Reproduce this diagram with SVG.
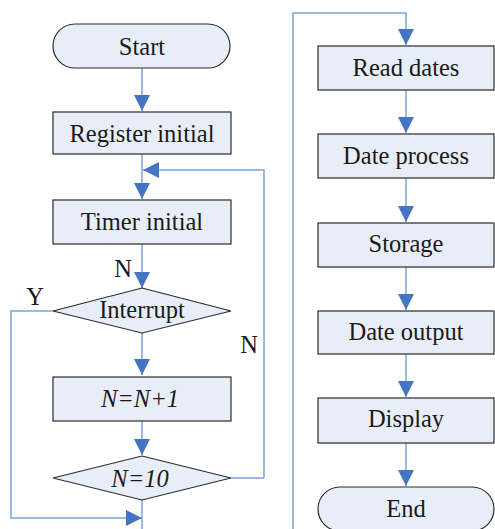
<svg xmlns="http://www.w3.org/2000/svg" width="495" height="529" viewBox="0 0 495 529">
<style>
.n{fill:#e8eef8;stroke:#2b2b2b;stroke-width:1.2}
.t{font-size:24.5px;fill:#1a1a1a;text-anchor:middle}
.i{font-style:italic}
.c{fill:none;stroke:#7fa3d6;stroke-width:1.5}
.a{fill:#4574c4}
</style>
<defs>
<polygon id="ad" points="-8,-16 8,-16 0,0"/>
</defs>
<g id="connectors">
<polyline class="c" points="142,68 142,111"/>
<polyline class="c" points="142,154 142,199"/>
<polyline class="c" points="264,478 264,170 143,170"/>
<polyline class="c" points="142,244 142,288"/>
<polyline class="c" points="53,311 11,311 11,518 142,518"/>
<polyline class="c" points="142,333 142,375"/>
<polyline class="c" points="142,421 142,455"/>
<polyline class="c" points="231,478 264,478"/>
<polyline class="c" points="142,500 142,529"/>
<polyline class="c" points="293,529 293,13 406,13 406,45"/>
<polyline class="c" points="406,90 406,133"/>
<polyline class="c" points="406,178 406,222"/>
<polyline class="c" points="406,267 406,310"/>
<polyline class="c" points="406,354 406,397"/>
<polyline class="c" points="406,443 406,486"/>
<use href="#ad" class="a" x="142" y="111"/>
<use href="#ad" class="a" x="142" y="199"/>
<polygon class="a" points="143,170 159,162 159,178"/>
<use href="#ad" class="a" x="142" y="288"/>
<polygon class="a" points="142,518 126,510 126,526"/>
<use href="#ad" class="a" x="142" y="375"/>
<use href="#ad" class="a" x="142" y="455"/>
<use href="#ad" class="a" x="406" y="45"/>
<use href="#ad" class="a" x="406" y="133"/>
<use href="#ad" class="a" x="406" y="222"/>
<use href="#ad" class="a" x="406" y="310"/>
<use href="#ad" class="a" x="406" y="397"/>
<use href="#ad" class="a" x="406" y="486"/>
<g font-family="Liberation Serif, Times New Roman, serif">
<text class="t" x="123" y="277">N</text>
<text class="t" x="35" y="305">Y</text>
<text class="t" x="249" y="353">N</text>
</g>
</g>
<g font-family="Liberation Serif, Times New Roman, serif">
<g id="start"><rect class="n" x="53" y="24" width="177" height="44" rx="22"/><text class="t" x="142" y="55">Start</text></g>
<g id="register"><rect class="n" x="53" y="112" width="178" height="42"/><text class="t" x="142" y="142">Register initial</text></g>
<g id="timer"><rect class="n" x="53" y="200" width="178" height="44"/><text class="t" x="142" y="230">Timer initial</text></g>
<g id="interrupt"><polygon class="n" points="142,288 231,311 142,333 53,311"/><text class="t" x="142" y="318">Interrupt</text></g>
<g id="incr"><rect class="n" x="53" y="377" width="178" height="44"/><text class="t i" x="140" y="407">N=N+1</text></g>
<g id="check"><polygon class="n" points="142,456 231,478 142,500 53,478"/><text class="t i" x="140" y="487">N=10</text></g>
<g id="read"><rect class="n" x="318" y="46" width="176" height="44"/><text class="t" x="406" y="76">Read dates</text></g>
<g id="process"><rect class="n" x="318" y="134" width="176" height="44"/><text class="t" x="406" y="164">Date process</text></g>
<g id="storage"><rect class="n" x="318" y="223" width="176" height="44"/><text class="t" x="406" y="252">Storage</text></g>
<g id="output"><rect class="n" x="318" y="311" width="176" height="43"/><text class="t" x="406" y="340">Date output</text></g>
<g id="display"><rect class="n" x="318" y="398" width="176" height="45"/><text class="t" x="406" y="427">Display</text></g>
<g id="end"><rect class="n" x="318" y="487" width="176" height="44" rx="22"/><text class="t" x="406" y="517">End</text></g>
</g>
</svg>
